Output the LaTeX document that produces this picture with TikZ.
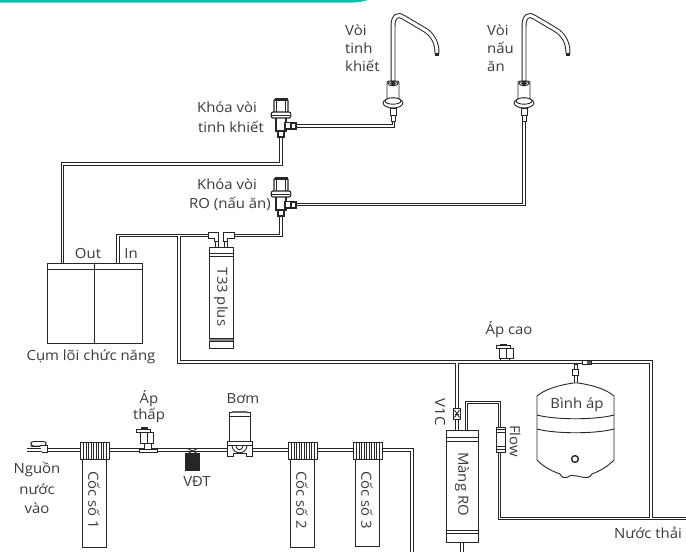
\documentclass[tikz,border=0pt]{standalone}
\usepackage{fontspec}
\setmainfont[FakeStretch=1.07]{Open Sans}
\definecolor{ink}{HTML}{262626}
\definecolor{txt}{HTML}{3A3A3A}
\definecolor{teal}{HTML}{12BFAE}
\tikzset{
  part/.style={draw=ink,line width=0.9pt,fill=white},
  thinline/.style={draw=ink,line width=0.9pt},
  lab/.style={text=txt,font=\fontsize{14}{16}\selectfont,inner sep=0pt,align=center},
  pipeout/.style={draw=ink,line width=3.7pt,line join=miter},
  pipein/.style={draw=white,line width=1.6pt,line join=miter},
  valvepic/.pic={
    \draw[part,line width=1.3pt,rounded corners=1.5pt] (-7,1) rectangle (7,15);
    \fill[ink] (-6.5,0.5) rectangle (6.5,3.4);
    \draw[ink,line width=1.1pt] (-4.5,3) -- (-4.5,14);
    \draw[ink,line width=1.1pt] (4.5,3) -- (4.5,14);
    \draw[part,line width=1.1pt] (9,25) rectangle (15,31);
    \draw[part,line width=1.1pt] (-5,20) -- (-5,33) -- (5,33) -- (5,20);
    \draw[part,line width=1.1pt] (-3,33) rectangle (3,39);
    \draw[part,line width=1.1pt,rounded corners=2pt] (-9.8,14) rectangle (9.8,20);
    \draw[thinline] (-9,17) -- (9,17);
    \draw[part,line width=1.1pt] (4,24.5) rectangle (10,31);
  },
  faucetpic/.pic={
    \draw[draw=ink,line width=5pt,line cap=round] (0,82) -- (0,26) .. controls (0,15) and (6,14) .. (10,17) -- (32,30) .. controls (40,35) and (44,43) .. (44,53);
    \draw[draw=white,line width=3pt,line cap=round] (0,80) -- (0,26) .. controls (0,15) and (6,14) .. (10,17) -- (32,30) .. controls (40,35) and (44,43) .. (44,53);
    \fill[ink] (41.8,53) rectangle (46.2,56);
    \draw[part,rounded corners=2pt] (-6,81) rectangle (6,100);
    \draw[part] (0,83.5) ellipse (5 and 2.2);
    \fill[ink] (0,83.5) ellipse (2.8 and 1.5);
    \draw[part] (0,103) ellipse (9.9 and 5);
    \draw[part] (0,101) ellipse (8 and 3.2);
    \draw[part] (-3,108) rectangle (3,115);
    \draw[part] (-2,115) rectangle (2,121);
  },
  cuppic/.pic={
    \draw[part] (2,17) rectangle (26,#1);
    \draw[part] (0,0) rectangle (29,17);
    \foreach \i in {3.5,6,8.5,11,13.5,16,18.5,21,23.5,26}{\draw[ink,line width=0.9pt] (\i,0) -- (\i,17);}
  },
}
\newcommand{\allpipes}[1]{
  \draw[#1] (cluster.north west) ++(15.5,0) -- ++(0,-99) -| (valveA-b);
  \draw[#1] (stubA) -| (fauA-b);
  \draw[#1] (stubB) -| (fauB-b);
  \draw[#1] (cluster.north west) ++(71,0) |- (elbowL);
  \draw[#1] (elbowR) -| (valveB-b);
  \draw[#1] (branch) |- (corner) -- (tee) |- (drainEnd);
  \draw[#1] (vOne) -- (roA);
  \draw[#1] (roB) |- (flowTop) -- (flowBot) |- (teeLow);
  \draw[#1] (roOut) -- ++(0,12);
  \draw[#1] (srcEnd) -- (cOneEnd);
  \draw[#1] (cOneEnd) -- (cupThreeEnd) -| (threeDown);
}
\begin{document}
\begin{tikzpicture}[x=1bp,y=-1bp]
\useasboundingbox (0,0) rectangle (686,552);
% top band
\fill[teal] (0,0) -- (368,0) .. controls (362,2) and (356,2.6) .. (350,2.6) -- (0,2.6) -- cycle;

% named ends
\coordinate (valveA-b) at (281,136);
\coordinate (valveB-b) at (281,215);
\coordinate (stubA) at (294,126);
\coordinate (stubB) at (294,204.5);
\coordinate (fauA-b) at (393.5,120);
\coordinate (fauB-b) at (524,120);
\coordinate (elbowL) at (210,235.5);
\coordinate (elbowR) at (232,235.5);
\coordinate (branch) at (179,235.5);
\coordinate (corner) at (179,362);
\coordinate (tee) at (651,362);
\coordinate (drainEnd) at (686,518.5);
\coordinate (vOne) at (457,362);
\coordinate (roA) at (457,430);
\coordinate (roB) at (466.5,430);
\coordinate (flowTop) at (499.5,402.5);
\coordinate (flowBot) at (499.5,450);
\coordinate (teeLow) at (651,518.5);
\coordinate (roOut) at (462,541);
\coordinate (srcEnd) at (27,450);
\coordinate (cOneEnd) at (94,450);
\coordinate (cupThreeEnd) at (412,450);
\coordinate (threeDown) at (412,552);

% cluster
\node[part,minimum width=95bp,minimum height=80bp,inner sep=0pt,anchor=north west] (cluster) at (47,263) {};
\draw[thinline] (47,269) -- (142,269);
\draw[thinline] (94,263) -- (94,343);

% pipes: outer then inner, so that junctions merge
\allpipes{pipeout}
\allpipes{pipein}
\draw[part] (47,263) rectangle (142,269);
\draw[thinline] (94,263) -- (94,343);

% valves & faucets
\pic at (281,98) {valvepic};
\pic at (281,177) {valvepic};
\pic at (393,0) {faucetpic};
\pic at (524,0) {faucetpic};

% T33 plus
\node[part,minimum width=24bp,minimum height=101bp,inner sep=0pt,anchor=north] (tplus) at (221,247) {};
\draw[thinline] (209,253) -- (233,253); \draw[thinline] (209,256) -- (233,256);
\fill[ink!55] (209,338) rectangle (233,341.5);
\draw[thinline] (209,338) -- (233,338); \draw[thinline] (209,341.5) -- (233,341.5);
\draw[part] (208,232.5) -- (218.5,232.5) -- (218.5,241) -- (214.5,241) -- (214.5,238.5) -- (208,238.5) -- cycle;
\draw[part] (234,232.5) -- (223.5,232.5) -- (223.5,241) -- (227.5,241) -- (227.5,238.5) -- (234,238.5) -- cycle;
\draw[part] (215,241) rectangle (218,247);
\draw[part] (224,241) rectangle (227,247);

% source fitting
\draw[part,rounded corners=2.5pt] (31,441.5) -- (46,441.5) -- (46,446) -- (31,446) -- cycle;
\draw[thinline] (31,446) -- (47,446);
\draw[part] (40,445) -- (47,445) -- (47,452) -- (42,452);

% cups
\pic at (80,442) {cuppic=105};
\pic at (288,442) {cuppic=105};
\pic at (353,442) {cuppic=104};

% low pressure switch
\draw[part] (139,449) rectangle (157,452.5);
\draw[part] (144,443) rectangle (151,449);
\draw[part] (140.5,432) rectangle (153.5,443.5);
\draw[thinline] (147,432) -- (147,443.5);
\draw[part] (136,429) rectangle (150,432);
\fill[ink] (141,427) rectangle (148,429);

% solenoid
\fill[ink] (185,453) rectangle (200,471);
\draw[thinline] (188.5,449) -- (196.5,453); \draw[thinline] (188.5,453) -- (196.5,449);

% pump
\draw[part] (229,412) rectangle (250,441);
\draw[thinline] (229,416) -- (250,416);
\fill[ink!70] (232,411) rectangle (247,412.5);
\draw[part] (227,441) -- (252,441) -- (252,456) -- (246,456) -- (246,453) -- (233,453) -- (233,456) -- (227,456) -- cycle;
\draw[thinline] (227,445.5) -- (252,445.5);
\draw[thinline] (232,446) .. controls (233,455) and (246,455) .. (247,446);
\draw[thinline] (236,446) .. controls (237,451) and (242,451) .. (243,446);
\draw[ink,line width=1.3pt] (252,451.5) -- (288,451.5);

% RO membrane
\node[part,minimum width=32bp,minimum height=112bp,inner sep=0pt,anchor=north west] (ro) at (446,430) {};
\draw[thinline] (446,437) -- (478,437); \draw[thinline] (446,441) -- (478,441);
\draw[thinline] (446,530) -- (478,530); \draw[thinline] (446,533) -- (478,533);

% V1C fitting
\draw[part] (453.5,408.5) rectangle (460.5,419);
\draw[thinline] (454.5,410) -- (459.5,417.5); \draw[thinline] (459.5,410) -- (454.5,417.5);
\draw[thinline] (455,414) -- (459,414);

% Flow fitting
\draw[part] (496,427) rectangle (505,452);
\draw[thinline] (496,432) -- (505,432); \draw[thinline] (496,446) -- (505,446); \draw[thinline] (496,449) -- (505,449);
\draw[thinline] (496,429) -- (505,429);

% high pressure switch
\draw[part] (499,348) -- (513,348) -- (513,358) -- (499,358) -- cycle;
\draw[thinline] (506,348) -- (506,358);
\draw[part] (496,345.5) rectangle (510,348);
\fill[ink] (500,343.5) rectangle (507,345.5);
\draw[part] (500.5,358) rectangle (509.5,360.3);

% small check fitting
\draw[part] (582,360.6) rectangle (591,364.6);
\fill[ink!75] (587,361) rectangle (591,364.3);

% tank connector
\draw[part] (574,364) rectangle (577,384);
\draw[part] (572.5,369) rectangle (578.5,375);

% tank
\draw[part] (537,396) .. controls (545,389) and (560,385) .. (573,383) -- (578,383)
  .. controls (592,385) and (606,389) .. (614,396)
  -- (614,460) .. controls (608,466) and (602,470) .. (592,474)
  .. controls (590,478) and (586,478) .. (582,477)
  .. controls (572,475) and (570,475) .. (568,477)
  .. controls (564,478) and (562,478) .. (560,474)
  .. controls (549,470) and (543,466) .. (537,460) -- cycle;
\draw[thinline] (537,415) .. controls (555,420) and (596,420) .. (614,415);
\draw[thinline] (537,429) .. controls (555,434) and (596,434) .. (614,429);
\draw[ink,line width=1.4pt] (575,459) circle (3.4);

% labels
\node[lab] (lOut) at (88,253.5) {Out};
\node[lab] (lIn) at (131,253.5) {In};
\node[lab] (lCum) at (91,356.5) {Cụm lõi chức năng};
\node[lab] (lKA) at (227,107.5) {Khóa vòi};
\node[lab] (lKB) at (231,126.5) {tinh khiết};
\node[lab] (lKC) at (227,184.5) {Khóa vòi};
\node[lab] (lKD) at (230,204) {RO (nấu ăn)};
\node[lab,align=left,anchor=north west,text width=40bp] (lVA) at (345,25) {Vòi\\[2pt]tinh\\[2pt]khiết};
\node[lab,align=left,anchor=north west,text width=40bp] (lVB) at (487,25) {Vòi\\[2pt]nấu\\[2pt]ăn};
\node[lab,rotate=-90] (lT) at (221,297) {T33 plus};
\node[lab] (lAc) at (509,330) {Áp cao};
\node[lab,rotate=-90] (lV1) at (440,412) {V1C};
\node[lab,rotate=-90] (lFl) at (515,441) {Flow};
\node[lab,rotate=-90] (lRo) at (462,484) {Màng RO};
\node[lab] (lBi) at (577,404.5) {Bình áp};
\node[lab] (lNt) at (648,533) {Nước thải};
\node[lab] (lAt1) at (149,399) {Áp};
\node[lab] (lAt2) at (149,416) {thấp};
\node[lab] (lBo) at (243,399) {Bơm};
\node[lab] (lVd) at (197,482) {VĐT};
\node[lab] (lNa) at (37,470) {Nguồn};
\node[lab] (lNb) at (37,489) {nước};
\node[lab] (lNc) at (37,508) {vào};
\node[lab,rotate=-90] (lCa) at (94,500) {Cốc số 1};
\node[lab,rotate=-90] (lCb) at (302,500) {Cốc số 2};
\node[lab,rotate=-90] (lCc) at (367,500) {Cốc số 3};
\end{tikzpicture}
\end{document}
